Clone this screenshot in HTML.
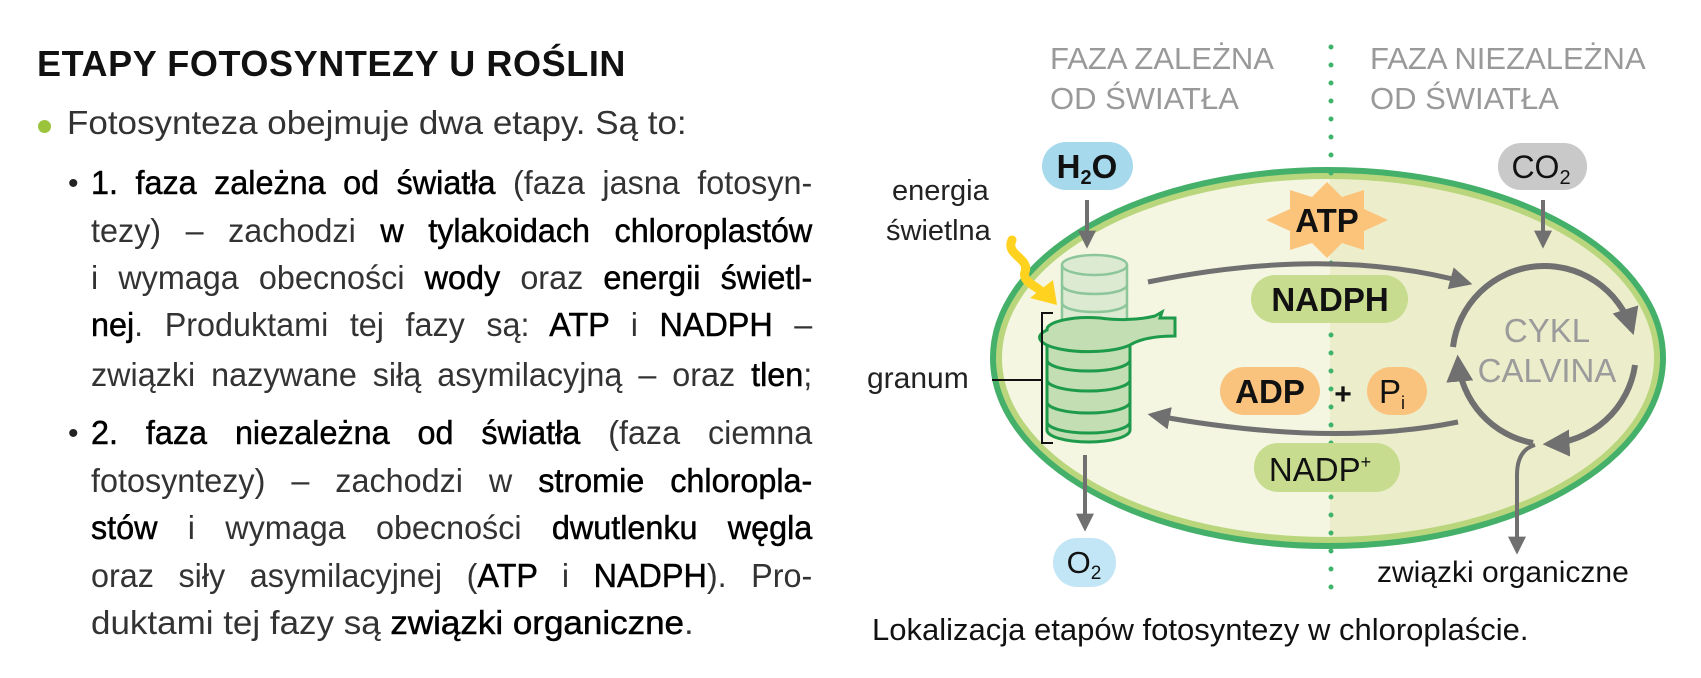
<!DOCTYPE html>
<html><head><meta charset="utf-8">
<style>
body{margin:0;width:1701px;height:678px;background:#fff;position:relative;overflow:hidden;font-family:"Liberation Sans",sans-serif;}
.l{position:absolute;left:91px;width:736px;font-size:33px;line-height:33px;color:#333;text-align:justify;text-align-last:justify;white-space:nowrap;transform:scaleX(0.98);transform-origin:0 0;}
.l.e{text-align-last:left;transform:scaleX(1.06);}
b{font-weight:normal;color:#000;-webkit-text-stroke:0.5px #000;}
.dot{position:absolute;font-size:30px;line-height:30px;color:#222;}
</style></head><body>
<div style="position:absolute;left:37px;top:46px;font-size:36px;font-weight:bold;line-height:36px;color:#111;letter-spacing:0.6px;">ETAPY FOTOSYNTEZY U ROŚLIN</div>
<div style="position:absolute;left:38px;top:120px;width:13px;height:13px;border-radius:50%;background:#9bc43c;"></div>
<div class="l e" style="left:67px;top:106px;">Fotosynteza obejmuje dwa etapy. Są to:</div>
<div class="dot" style="left:68px;top:169px;">•</div>
<div class="l" style="top:166px;"><b>1. faza zależna od światła</b> (faza jasna fotosyn-</div>
<div class="l" style="top:214px;">tezy) – zachodzi <b>w tylakoidach chloroplastów</b></div>
<div class="l" style="top:261px;">i wymaga obecności <b>wody</b> oraz <b>energii świetl-</b></div>
<div class="l" style="top:308px;"><b>nej</b>. Produktami tej fazy są: <b>ATP</b> i <b>NADPH</b> –</div>
<div class="l" style="top:358px;">związki nazywane siłą asymilacyjną – oraz <b>tlen</b>;</div>
<div class="dot" style="left:68px;top:419px;">•</div>
<div class="l" style="top:416px;"><b>2. faza niezależna od światła</b> (faza ciemna</div>
<div class="l" style="top:464px;">fotosyntezy) – zachodzi w <b>stromie chloropla-</b></div>
<div class="l" style="top:511px;"><b>stów</b> i wymaga obecności <b>dwutlenku węgla</b></div>
<div class="l" style="top:559px;">oraz siły asymilacyjnej (<b>ATP</b> i <b>NADPH</b>). Pro-</div>
<div class="l e" style="top:606px;">duktami tej fazy są <b>związki organiczne</b>.</div>

<svg width="1701" height="678" style="position:absolute;left:0;top:0" xmlns="http://www.w3.org/2000/svg" font-family="Liberation Sans, sans-serif">
<defs>
<clipPath id="ec"><ellipse cx="1328" cy="358" rx="333" ry="186"/></clipPath>
<marker id="ah" viewBox="0 0 10 10" refX="8" refY="5" markerWidth="4.5" markerHeight="4.5" orient="auto"><path d="M0,0 L10,5 L0,10 z" fill="#707070"/></marker>
</defs>
<text x="1050" y="69" font-size="31" fill="#999">FAZA ZALEŻNA</text>
<text x="1050" y="109" font-size="31" fill="#999">OD ŚWIATŁA</text>
<text x="1370" y="69" font-size="31" fill="#999">FAZA NIEZALEŻNA</text>
<text x="1370" y="109" font-size="31" fill="#999">OD ŚWIATŁA</text>
<ellipse cx="1328" cy="358" rx="333" ry="186" fill="#f4f6e1"/>
<rect x="1330" y="160" width="340" height="400" fill="#ecedcb" clip-path="url(#ec)"/>
<ellipse cx="1328" cy="358" rx="330" ry="183" fill="none" stroke="#b9d67d" stroke-width="8"/>
<ellipse cx="1328" cy="358" rx="335" ry="188" fill="none" stroke="#45b06a" stroke-width="6"/>
<line x1="1331" y1="47" x2="1331" y2="590" stroke="#3fb36b" stroke-width="5" stroke-linecap="round" stroke-dasharray="0 18"/>
<rect x="1042" y="142" width="91" height="48" rx="24" fill="#a6d9ec"/>
<text x="1087" y="178" font-size="33" font-weight="bold" text-anchor="middle" fill="#111">H<tspan font-size="20" dy="6">2</tspan><tspan dy="-6">O</tspan></text>
<rect x="1498" y="143" width="89" height="47" rx="23" fill="#c9c9c9"/>
<text x="1541" y="178" font-size="32" text-anchor="middle" fill="#111">CO<tspan font-size="20" dy="6">2</tspan></text>
<rect x="1053" y="538" width="63" height="49" rx="24" fill="#c3e6f6"/>
<text x="1084" y="573" font-size="31" text-anchor="middle" fill="#111">O<tspan font-size="19" dy="6">2</tspan></text>
<line x1="1087" y1="200" x2="1087" y2="245" stroke="#707070" stroke-width="4" marker-end="url(#ah)"/>
<line x1="1543" y1="200" x2="1543" y2="245" stroke="#707070" stroke-width="4" marker-end="url(#ah)"/>
<line x1="1085" y1="455" x2="1085" y2="528" stroke="#707070" stroke-width="4" marker-end="url(#ah)"/>
<path d="M1148,282 Q1330,245 1468,283" fill="none" stroke="#707070" stroke-width="5" marker-end="url(#ah)"/>
<path d="M1458,422 Q1330,448 1152,415" fill="none" stroke="#707070" stroke-width="5" marker-end="url(#ah)"/>
<path d="M1535,445 Q1517,450 1517,475 L1517,551" fill="none" stroke="#707070" stroke-width="4" marker-end="url(#ah)"/>
<path d="M1453,347 A92,92 0 0 1 1632,330" fill="none" stroke="#707070" stroke-width="6" marker-end="url(#ah)"/>
<path d="M1635,365 A92,92 0 0 1 1548,444" fill="none" stroke="#707070" stroke-width="6" marker-end="url(#ah)"/>
<path d="M1533,443 A92,92 0 0 1 1458,360" fill="none" stroke="#707070" stroke-width="6" marker-end="url(#ah)"/>
<text x="1547" y="342" font-size="33" text-anchor="middle" fill="#9b9b9b">CYKL</text>
<text x="1547" y="382" font-size="33" text-anchor="middle" fill="#9b9b9b">CALVINA</text>
<polygon points="1327,182 1342,197 1364,190 1364,209 1388,220 1364,231 1364,250 1342,243 1327,258 1312,243 1290,250 1290,231 1266,220 1290,209 1290,190 1312,197" fill="#fbc47a"/>
<text x="1327" y="232" font-size="33" font-weight="bold" text-anchor="middle" fill="#111">ATP</text>
<rect x="1251" y="275" width="157" height="48" rx="24" fill="#c7dc8e"/>
<text x="1330" y="311" font-size="33" font-weight="bold" text-anchor="middle" fill="#111">NADPH</text>
<rect x="1220" y="367" width="100" height="48" rx="24" fill="#f9c37e"/>
<text x="1270" y="403" font-size="33" font-weight="bold" text-anchor="middle" fill="#111">ADP</text>
<text x="1343" y="404" font-size="30" font-weight="bold" text-anchor="middle" fill="#111">+</text>
<rect x="1367" y="367" width="60" height="48" rx="24" fill="#f9c37e"/>
<text x="1392" y="403" font-size="33" text-anchor="middle" fill="#111">P<tspan font-size="18" dy="6">i</tspan></text>
<rect x="1254" y="443" width="146" height="49" rx="24" fill="#c7dc8e"/>
<text x="1320" y="481" font-size="33" text-anchor="middle" fill="#111">NADP<tspan font-size="18" dy="-13">+</tspan></text>
<g stroke="#8cc69a" stroke-width="2.5" fill="#dbead0">
<path d="M1062,265 L1062,320 L1127,320 L1127,265"/>
<ellipse cx="1094.5" cy="265" rx="32.5" ry="10"/>
<path d="M1062,285 A32.5,9 0 0 0 1127,285 M1062,303 A32.5,9 0 0 0 1127,303" fill="none"/>
</g>
<g stroke="#1e9a4b" stroke-width="3" fill="#c3deb2">
<path d="M1047,330 L1047,430 A41.5,12 0 0 0 1130,430 L1130,330 Z"/>
<path d="M1047,330 A41.5,12 0 0 1 1100,318 Q1130,322 1155,316 L1162,312 L1160,318 L1175,318 L1175,336 Q1145,336 1130,345 A41.5,12 0 0 1 1047,330 Z"/>
<path d="M1047,360 A41.5,11 0 0 0 1130,360 M1047,380 A41.5,11 0 0 0 1130,380 M1047,402 A41.5,11 0 0 0 1130,402 M1047,422 A41.5,11 0 0 0 1130,422" fill="none"/>
</g>
<path d="M1053,313 L1042,313 L1042,443 L1053,443" fill="none" stroke="#111" stroke-width="2"/>
<line x1="992" y1="380" x2="1042" y2="380" stroke="#111" stroke-width="2"/>
<text x="867" y="388" font-size="30" fill="#222">granum</text>
<text x="892" y="200" font-size="29" fill="#222">energia</text>
<text x="886" y="240" font-size="29" fill="#222">świetlna</text>
<path d="M1012,240 C1005,255 1030,258 1025,272 C1022,282 1035,285 1042,292" fill="none" stroke="#ffd21f" stroke-width="9" stroke-linecap="round"/>
<polygon points="1030,298 1057,305 1053,280" fill="#ffd21f"/>
<text x="1377" y="582" font-size="30" fill="#111">związki organiczne</text>
<text x="872" y="640" font-size="31" fill="#111">Lokalizacja etapów fotosyntezy w chloroplaście.</text>
</svg>
</body></html>
